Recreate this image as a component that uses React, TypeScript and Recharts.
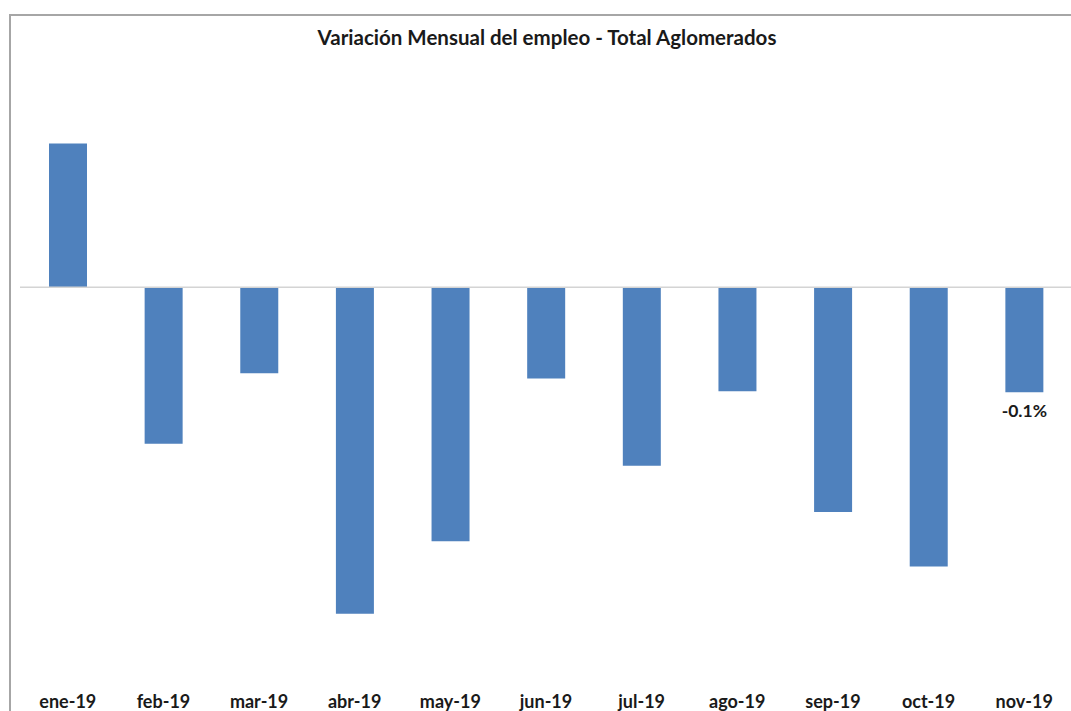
import { BarChart, Bar, XAxis, YAxis, ReferenceLine, LabelList } from "recharts";

const months = ["ene-19", "feb-19", "mar-19", "abr-19", "may-19", "jun-19", "jul-19", "ago-19", "sep-19", "oct-19", "nov-19"];
const variation = [0.137, -0.149, -0.082, -0.311, -0.242, -0.087, -0.17, -0.099, -0.214, -0.266, -0.1];
const labels = ["", "", "", "", "", "", "", "", "", "", "-0.1%"];

const data = months.map((m, i) => ({ month: m, value: variation[i], label: labels[i] }));

const FONT = "Lato, 'Open Sans', sans-serif";
const BLUE = "#4F81BD";

function BottomLabel(props: any) {
  const { x, y, width, height, value } = props;
  if (!value) return null;
  const bottom = Math.max(y, y + height);
  return (
    <text
      x={x + width / 2}
      y={bottom + 18}
      textAnchor="middle"
      dominantBaseline="central"
      fontFamily={FONT}
      fontWeight={700}
      fontSize={17.5}
      fill="#1a1a1a"
    >
      {value}
    </text>
  );
}

export default function App() {
  return (
    <div style={{ position: "absolute", left: 0, top: 0, width: 1071, height: 711, overflow: "hidden", background: "#fff" }}>
      {/* chart frame */}
      <div
        style={{
          position: "absolute",
          left: 9,
          top: 14,
          width: 1100,
          height: 750,
          border: "2px solid #a6a6a6",
          boxSizing: "border-box",
        }}
      />
      <div
        style={{
          position: "absolute",
          left: 0,
          top: 25,
          width: 1071,
          paddingLeft: 23,
          boxSizing: "border-box",
          textAlign: "center",
          fontFamily: FONT,
          fontWeight: 700,
          fontSize: 20.5,
          color: "#1a1a1a",
        }}
      >
        Variación Mensual del empleo - Total Aglomerados
      </div>
      <div style={{ position: "absolute", left: 0, top: 0 }}>
        <BarChart width={1075} height={711} data={data} margin={{ top: 51, right: 3, bottom: 0, left: 20 }}>
          <XAxis
            dataKey="month"
            axisLine={false}
            tickLine={false}
            height={30}
            interval={0}
            tick={{ fontFamily: FONT, fontWeight: 700, fontSize: 18, fill: "#1a1a1a" }}
            tickMargin={8}
          />
          <YAxis hide domain={[-0.375, 0.225]} />
          <ReferenceLine y={0} stroke="#d4d4d4" strokeWidth={1.5} />
          <Bar dataKey="value" fill={BLUE} barSize={38} isAnimationActive={false}>
            <LabelList dataKey="label" content={<BottomLabel />} />
          </Bar>
        </BarChart>
      </div>
    </div>
  );
}
